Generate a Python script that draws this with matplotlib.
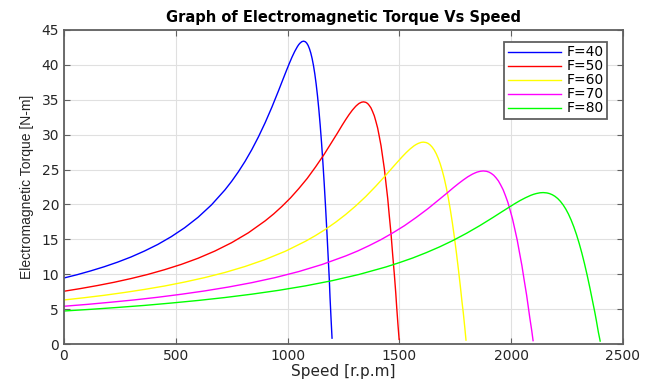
import matplotlib
matplotlib.use("Agg")
import matplotlib.pyplot as plt

# torque-speed curves (speed in r.p.m, torque in N-m)
speed_f40 = [0, 60, 120, 180, 240, 300, 360, 420, 480, 540, 600, 660, 720, 750, 780, 810,
             840, 870, 900, 930, 960, 978, 996, 1008, 1020, 1032, 1044, 1050, 1056, 1064,
             1072, 1080, 1086, 1092, 1098, 1104, 1110, 1116, 1122, 1128, 1134, 1140, 1146,
             1152, 1158, 1164, 1170, 1176, 1182, 1187, 1190, 1195, 1199]
torque_f40 = [9.46, 9.94, 10.48, 11.07, 11.73, 12.47, 13.32, 14.27, 15.38, 16.66, 18.16,
              19.94, 22.08, 23.31, 24.67, 26.17, 27.84, 29.69, 31.72, 33.94, 36.32, 37.80,
              39.26, 40.21, 41.11, 41.92, 42.61, 42.90, 43.12, 43.33, 43.40, 43.31, 43.11,
              42.79, 42.32, 41.70, 40.90, 39.91, 38.70, 37.25, 35.56, 33.61, 31.38, 28.87,
              26.07, 23.00, 19.66, 16.08, 12.29, 9.11, 6.68, 3.36, 0.84]

speed_f50 = [0, 75, 150, 225, 300, 375, 450, 525, 600, 675, 750, 825, 900, 938, 975, 1013,
             1050, 1088, 1125, 1163, 1200, 1223, 1245, 1260, 1275, 1290, 1305, 1313, 1320,
             1331, 1340, 1350, 1358, 1365, 1373, 1380, 1388, 1395, 1403, 1410, 1418, 1425,
             1433, 1440, 1448, 1455, 1463, 1470, 1478, 1484, 1488, 1494, 1499]
torque_f50 = [7.56, 7.95, 8.38, 8.85, 9.38, 9.97, 10.65, 11.41, 12.29, 13.32, 14.52, 15.94,
              17.65, 18.64, 19.72, 20.93, 22.26, 23.73, 25.36, 27.14, 29.04, 30.22, 31.39,
              32.15, 32.87, 33.52, 34.07, 34.30, 34.48, 34.65, 34.70, 34.63, 34.47, 34.21,
              33.84, 33.34, 32.70, 31.91, 30.94, 29.79, 28.43, 26.87, 25.09, 23.08, 20.85,
              18.39, 15.72, 12.86, 9.82, 7.29, 5.34, 2.69, 0.67]

speed_f60 = [0, 90, 180, 270, 360, 450, 540, 630, 720, 810, 900, 990, 1080, 1125, 1170,
             1215, 1260, 1305, 1350, 1395, 1440, 1467, 1494, 1512, 1530, 1548, 1566, 1575,
             1584, 1597, 1607, 1620, 1629, 1638, 1647, 1656, 1665, 1674, 1683, 1692, 1701,
             1710, 1719, 1728, 1737, 1746, 1755, 1764, 1773, 1780, 1786, 1793, 1798]
torque_f60 = [6.31, 6.63, 6.98, 7.38, 7.82, 8.31, 8.88, 9.52, 10.25, 11.11, 12.11, 13.29,
              14.72, 15.54, 16.44, 17.45, 18.56, 19.79, 21.14, 22.63, 24.21, 25.20, 26.17,
              26.81, 27.41, 27.95, 28.41, 28.59, 28.74, 28.89, 28.93, 28.87, 28.74, 28.52,
              28.21, 27.80, 27.26, 26.60, 25.79, 24.83, 23.71, 22.40, 20.92, 19.24, 17.38,
              15.33, 13.11, 10.72, 8.19, 6.08, 4.45, 2.24, 0.56]

speed_f70 = [0, 105, 210, 315, 420, 525, 630, 735, 840, 945, 1050, 1155, 1260, 1313, 1365,
             1418, 1470, 1523, 1575, 1628, 1680, 1712, 1743, 1764, 1785, 1806, 1827, 1838,
             1848, 1863, 1875, 1890, 1901, 1911, 1922, 1932, 1943, 1953, 1964, 1974, 1985,
             1995, 2006, 2016, 2027, 2037, 2048, 2058, 2069, 2077, 2083, 2092, 2098]
torque_f70 = [5.41, 5.68, 5.99, 6.32, 6.70, 7.13, 7.61, 8.16, 8.79, 9.52, 10.38, 11.40,
              12.62, 13.32, 14.10, 14.96, 15.91, 16.96, 18.13, 19.40, 20.76, 21.60, 22.44,
              22.98, 23.49, 23.96, 24.35, 24.51, 24.64, 24.76, 24.80, 24.75, 24.63, 24.45,
              24.18, 23.83, 23.37, 22.80, 22.11, 21.29, 20.32, 19.21, 17.93, 16.50, 14.90,
              13.14, 11.24, 9.19, 7.02, 5.21, 3.82, 1.92, 0.48]

speed_f80 = [0, 120, 240, 360, 480, 600, 720, 840, 960, 1080, 1200, 1320, 1440, 1500, 1560,
             1620, 1680, 1740, 1800, 1860, 1920, 1956, 1992, 2016, 2040, 2064, 2088, 2100,
             2112, 2129, 2143, 2160, 2172, 2184, 2196, 2208, 2220, 2232, 2244, 2256, 2268,
             2280, 2292, 2304, 2316, 2328, 2340, 2352, 2364, 2374, 2381, 2390, 2398]
torque_f80 = [4.73, 4.97, 5.24, 5.53, 5.87, 6.24, 6.66, 7.14, 7.69, 8.33, 9.08, 9.97,
              11.04, 11.66, 12.33, 13.09, 13.92, 14.84, 15.86, 16.97, 18.16, 18.90, 19.63,
              20.11, 20.56, 20.96, 21.31, 21.45, 21.56, 21.67, 21.70, 21.65, 21.55, 21.39,
              21.16, 20.85, 20.45, 19.95, 19.35, 18.63, 17.78, 16.80, 15.69, 14.43, 13.04,
              11.50, 9.83, 8.04, 6.14, 4.56, 3.34, 1.68, 0.42]

labels = ["F=40", "F=50", "F=60", "F=70", "F=80"]
colors = ["#0000ff", "#ff0000", "#ffff00", "#ff00ff", "#00ff00"]
x_ticks = [0, 500, 1000, 1500, 2000, 2500]
y_ticks = [0, 5, 10, 15, 20, 25, 30, 35, 40, 45]

plt.rcParams["font.family"] = ["DejaVu Sans"]

fig = plt.figure(figsize=(6.52, 3.83), dpi=100)
ax = fig.add_axes([0.098, 0.1018, 0.8575, 0.8199])

curves = [(speed_f40, torque_f40), (speed_f50, torque_f50), (speed_f60, torque_f60),
          (speed_f70, torque_f70), (speed_f80, torque_f80)]
for (sp, tq), lab, col in zip(curves, labels, colors):
    ax.plot(sp, tq, color=col, linewidth=1.0, label=lab)

ax.set_xlim(0, 2500)
ax.set_ylim(0, 45)
ax.set_xticks(x_ticks)
ax.set_yticks(y_ticks)
ax.grid(True, color="#e0e0e0", linewidth=0.8)
ax.set_axisbelow(True)

text_color = "#262626"
for sp in ax.spines.values():
    sp.set_color("#606060")
    sp.set_linewidth(1.3)
ax.tick_params(direction="in", top=True, right=True, length=4, width=0.8,
               colors="#606060", labelcolor=text_color, labelsize=10)

ax.set_title("Graph of Electromagnetic Torque Vs Speed", fontsize=10.5, fontweight="bold", pad=6)
ax.set_xlabel("Speed [r.p.m]", fontsize=11, color=text_color, labelpad=1)
ax.set_ylabel("Electromagnetic Torque [N-m]", fontsize=10, color=text_color, labelpad=5,
              family=["Liberation Sans", "DejaVu Sans"])

leg = ax.legend(loc="upper right", bbox_to_anchor=(0.9714, 0.9618), borderaxespad=0,
                fontsize=10, handlelength=3.8, labelspacing=0.0, fancybox=False,
                framealpha=1, borderpad=0.25, handletextpad=0.4)
leg.get_frame().set_edgecolor("#606060")
leg.get_frame().set_linewidth(1.3)

fig.savefig("out.png", dpi=100)
